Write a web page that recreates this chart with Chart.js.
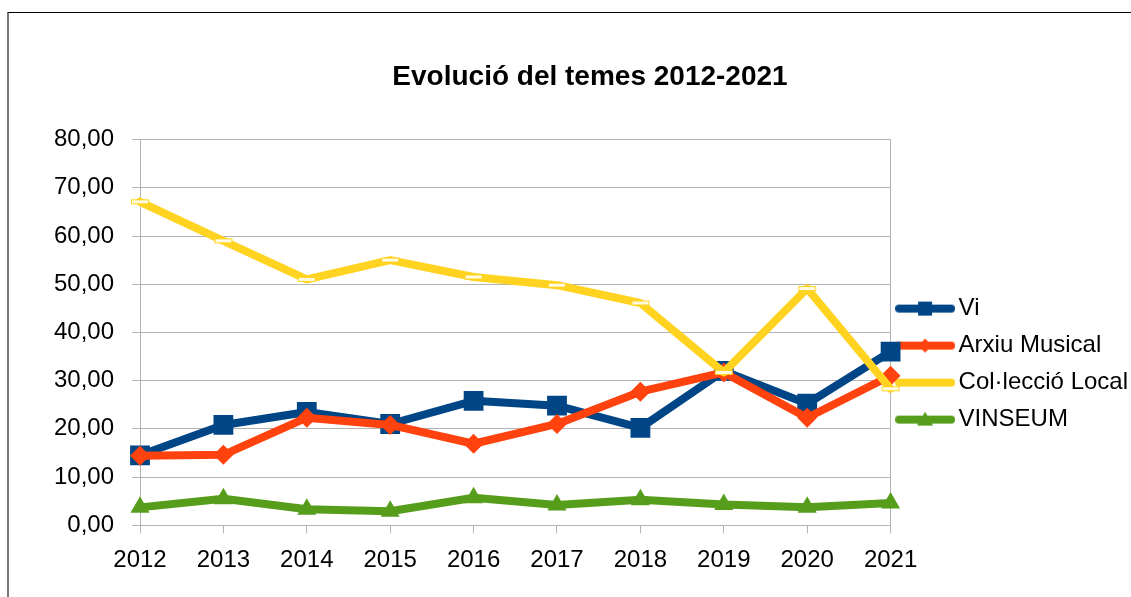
<!DOCTYPE html>
<html>
<head>
<meta charset="utf-8">
<script src="https://cdn.jsdelivr.net/npm/chart.js@4/dist/chart.umd.min.js"></script>
<style>
  html, body { margin: 0; padding: 0; background: #fff; }
  #wrap { position: relative; width: 1131px; height: 597px; overflow: hidden; }
  #frame { position: absolute; left: 7px; top: 12px; width: 1200px; height: 700px;
           border-top: 1px solid #000; border-left: 2px solid #777; box-sizing: border-box; }
  #chart { position: absolute; left: 0; top: 0; }
</style>
</head>
<body>
<div id="wrap">
  <div id="frame"></div>
  <canvas id="chart" width="1131" height="597"></canvas>
</div>
<script>
const years = ['2012', '2013', '2014', '2015', '2016', '2017', '2018', '2019', '2020', '2021'];
const vi = [14.5, 20.8, 23.5, 21.0, 25.8, 24.8, 20.2, 32.0, 25.2, 36.0];
const arxiuMusical = [14.4, 14.6, 22.3, 20.8, 16.9, 21.0, 27.7, 31.7, 22.3, 31.0];
const colleccioLocal = [67.1, 59.0, 51.0, 55.0, 51.5, 49.8, 46.1, 31.7, 49.1, 28.3];
const vinseum = [3.7, 5.5, 3.3, 2.9, 5.7, 4.2, 5.3, 4.3, 3.7, 4.6];
const yTicks = [0, 10, 20, 30, 40, 50, 60, 70, 80];

const BLUE = '#004586', RED = '#ff420e', YELLOW = '#ffd320', GREEN = '#579d1c';
const GRID = '#b3b3b3';

// hollow flat rectangle used as marker for Col·lecció Local
function flatRect() {
  const c = document.createElement('canvas');
  c.width = 20; c.height = 7;
  const g = c.getContext('2d');
  g.fillStyle = '#fffbe0';
  g.fillRect(1, 1, 18, 5);
  g.strokeStyle = YELLOW;
  g.lineWidth = 1;
  g.strokeRect(1.5, 1.5, 17, 4);
  return c;
}

// legend symbol: thick line with a small marker in the middle
function legendSymbol(color, marker) {
  const c = document.createElement('canvas');
  c.width = 60; c.height = 18;
  const g = c.getContext('2d');
  g.strokeStyle = color;
  g.lineWidth = 8;
  g.lineCap = 'round';
  g.beginPath(); g.moveTo(4, 9); g.lineTo(56, 9); g.stroke();
  g.fillStyle = color;
  if (marker === 'rect') {
    g.fillRect(23, 2, 14, 14);
  } else if (marker === 'diamond') {
    g.beginPath(); g.moveTo(30, 2); g.lineTo(37, 9); g.lineTo(30, 16); g.lineTo(23, 9); g.closePath(); g.fill();
  } else if (marker === 'triangle') {
    g.beginPath(); g.moveTo(30, 1); g.lineTo(38, 15); g.lineTo(22, 15); g.closePath(); g.fill();
  }
  return c;
}

const legendIcons = [
  legendSymbol(BLUE, 'rect'),
  legendSymbol(RED, 'diamond'),
  legendSymbol(YELLOW, 'none'),
  legendSymbol(GREEN, 'triangle')
];

const lineBase = {
  borderWidth: 8,
  borderJoinStyle: 'round',
  borderCapStyle: 'round',
  tension: 0,
  pointBorderWidth: 0,
  pointHoverRadius: 0
};

new Chart(document.getElementById('chart'), {
  type: 'line',
  data: {
    labels: years,
    datasets: [
      Object.assign({}, lineBase, {
        label: 'Vi', data: vi, borderColor: BLUE, backgroundColor: BLUE,
        pointStyle: 'rect', pointRadius: 14, order: 4
      }),
      Object.assign({}, lineBase, {
        label: 'Arxiu Musical', data: arxiuMusical, borderColor: RED, backgroundColor: RED,
        pointStyle: 'rectRot', pointRadius: 10, order: 3
      }),
      Object.assign({}, lineBase, {
        label: 'Col·lecció Local', data: colleccioLocal, borderColor: YELLOW, backgroundColor: YELLOW,
        pointStyle: flatRect(), pointRadius: 10, order: 2
      }),
      Object.assign({}, lineBase, {
        label: 'VINSEUM', data: vinseum, borderColor: GREEN, backgroundColor: GREEN,
        pointStyle: 'triangle', pointRadius: 11, order: 1
      })
    ]
  },
  options: {
    responsive: false,
    animation: false,
    events: [],
    layout: { padding: { left: 42, right: -7, top: 0, bottom: 9 } },
    plugins: {
      title: {
        display: true,
        text: 'Evolució del temes 2012-2021',
        color: '#000',
        font: { family: 'Liberation Sans', size: 28, weight: 'bold' },
        padding: { top: 60, bottom: 46 }
      },
      legend: {
        position: 'right',
        align: 'start',
        fullSize: false,
        title: { display: true, text: ' ', font: { size: 10 }, padding: { top: 132, bottom: 0 } },
        labels: {
          usePointStyle: true,
          pointStyleWidth: 43,
          padding: 13,
          color: '#000',
          font: { family: 'Liberation Sans', size: 24 },
          generateLabels: chart => chart.data.datasets.map((ds, i) => ({
            text: ds.label,
            pointStyle: legendIcons[i],
            fillStyle: ds.borderColor,
            strokeStyle: ds.borderColor,
            lineWidth: 0,
            hidden: false,
            datasetIndex: i,
            fontColor: '#000'
          }))
        }
      },
      tooltip: { enabled: false }
    },
    scales: {
      x: {
        offset: false,
        grid: {
          drawOnChartArea: true,
          color: ctx => (ctx.index === 0 || ctx.index === years.length - 1) ? GRID : 'rgba(0,0,0,0)',
          tickColor: GRID,
          tickLength: 8,
          lineWidth: 1
        },
        border: { display: false },
        ticks: {
          color: '#000',
          padding: 13,
          maxRotation: 0,
          font: { family: 'Liberation Sans', size: 24 }
        }
      },
      y: {
        min: 0,
        max: 80,
        afterFit: scale => { scale.width = 98; },
        afterBuildTicks: scale => { scale.ticks = yTicks.map(v => ({ value: v })); },
        grid: { color: GRID, tickColor: GRID, tickLength: 8, lineWidth: 1 },
        border: { color: GRID },
        ticks: {
          color: '#000',
          padding: 18,
          font: { family: 'Liberation Sans', size: 24 },
          callback: v => v.toFixed(2).replace('.', ',')
        }
      }
    }
  }
});
</script>
</body>
</html>
